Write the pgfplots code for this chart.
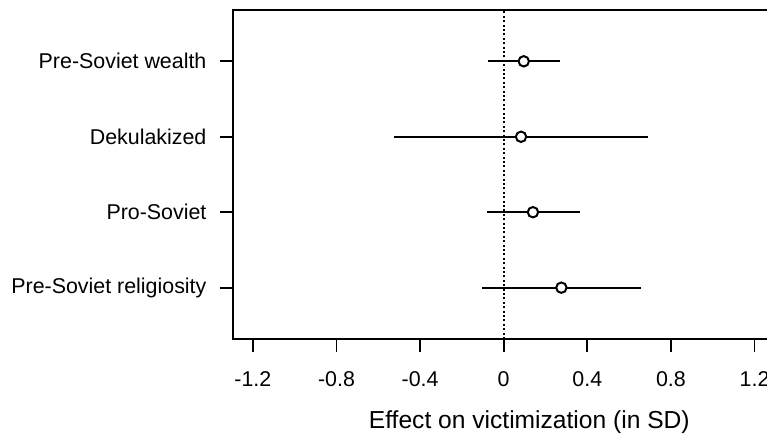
\documentclass[border=0pt]{standalone}
\usepackage{fontspec}
\setmainfont{Liberation Sans}
\usepackage{pgfplots}
\usepackage{pgfplotstable}
\pgfplotsset{compat=1.18}

% point estimate and 95% interval per variable (y = row from bottom)
\pgfplotstableread{
y x lo hi
4 0.096 -0.075 0.268
3 0.083 -0.526 0.691
2 0.140 -0.080 0.364
1 0.276 -0.104 0.659
}\effects

\begin{document}
\begin{tikzpicture}
\begin{axis}[
  scale only axis, width=296.3pt, height=164.5pt,
  xmin=-1.295, xmax=1.54, ymin=0.32, ymax=4.68,
  axis line style={line width=0.9pt},
  tick style={line width=0.9pt, black},
  tick align=outside, major tick length=6.5pt,
  xtick pos=lower, ytick pos=left,
  xtick={-1.2,-0.8,-0.4,0,0.4,0.8,1.2},
  xticklabels={-1.2,-0.8,-0.4,0,0.4,0.8,1.2},
  ytick={1,2,3,4},
  yticklabels={Pre-Soviet religiosity,Pro-Soviet,Dekulakized,Pre-Soviet wealth},
  tick label style={font=\fontsize{10.7}{12}\selectfont},
  xticklabel style={yshift=-6.5pt},
  yticklabel style={xshift=-3.25pt},
  xlabel={Effect on victimization (in SD)},
  xlabel style={font=\fontsize{12.3}{14}\selectfont, at={(axis description cs:0.5,0)}, anchor=base, yshift=-45pt},
  clip=false,
]
\addplot[black, line width=1pt, dash pattern=on 1pt off 1.2pt] coordinates {(0,0.32) (0,4.68)};
\addplot[only marks, mark=*, mark size=2.6pt,
  mark options={fill=white, draw=black, line width=1pt},
  error bars/.cd, x dir=both, x explicit, error mark=none,
  error bar style={line width=1.1pt, black}]
  table[x=x, y=y, x error minus expr=\thisrow{x}-\thisrow{lo}, x error plus expr=\thisrow{hi}-\thisrow{x}] {\effects};
\coordinate (bl) at (rel axis cs:0,0);
\coordinate (tl) at (rel axis cs:0,1);
\end{axis}
\pgfresetboundingbox
\path ([xshift=-116.5pt,yshift=-51pt]bl) rectangle ([xshift=267pt,yshift=5pt]tl);
\end{tikzpicture}
\end{document}
